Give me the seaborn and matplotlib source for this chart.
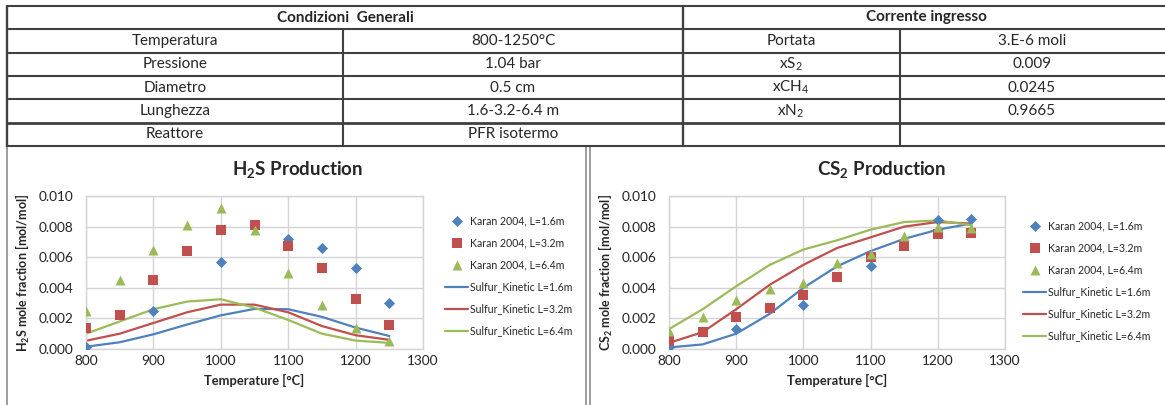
import matplotlib
matplotlib.use("Agg")
import matplotlib.pyplot as plt
from matplotlib.lines import Line2D
from matplotlib.patches import Rectangle
from matplotlib.ticker import FormatStrFormatter, MultipleLocator
import seaborn as sns
import pandas as pd

# ---------------- data ----------------
temps = [800, 850, 900, 950, 1000, 1050, 1100, 1150, 1200, 1250]

h2s_karan_16_T = [800, 900, 1000, 1100, 1150, 1200, 1250]
h2s_karan_16 = [0.0001, 0.0025, 0.0057, 0.0072, 0.0066, 0.0053, 0.0030]
h2s_karan_32 = [0.00135, 0.0022, 0.0045, 0.0064, 0.0078, 0.0081, 0.0067, 0.0053, 0.0033, 0.00155]
h2s_karan_64 = [0.0025, 0.0045, 0.0065, 0.0081, 0.0092, 0.0078, 0.0050, 0.0029, 0.0014, 0.0005]
h2s_kin_16 = [0.00015, 0.00044, 0.00096, 0.0016, 0.0022, 0.00262, 0.0026, 0.0021, 0.0014, 0.00085]
h2s_kin_32 = [0.00054, 0.0010, 0.0017, 0.0024, 0.0029, 0.0029, 0.0024, 0.0015, 0.0009, 0.0006]
h2s_kin_64 = [0.0010, 0.0018, 0.0026, 0.0031, 0.00325, 0.0027, 0.0019, 0.0010, 0.00055, 0.0004]

cs2_karan_16_T = [800, 900, 1000, 1100, 1200, 1250]
cs2_karan_16 = [0.0001, 0.0013, 0.0029, 0.0054, 0.0084, 0.0085]
cs2_karan_32 = [0.00054, 0.00113, 0.0021, 0.0027, 0.00355, 0.0047, 0.0060, 0.0067, 0.0075, 0.0076]
cs2_karan_64 = [0.0012, 0.0021, 0.0032, 0.0039, 0.0043, 0.0056, 0.0062, 0.0074, 0.0080, 0.0079]
cs2_kin_16 = [0.0001, 0.0003, 0.0010, 0.0023, 0.0040, 0.0054, 0.0064, 0.0072, 0.0078, 0.0082]
cs2_kin_32 = [0.0004, 0.0011, 0.0026, 0.0042, 0.0055, 0.0066, 0.0073, 0.0080, 0.0083, 0.0082]
cs2_kin_64 = [0.0013, 0.0026, 0.0041, 0.0055, 0.0065, 0.0071, 0.0078, 0.0083, 0.0084, 0.0081]

karan_labels = ["Karan 2004, L=1.6m", "Karan 2004, L=3.2m", "Karan 2004, L=6.4m"]
kin_labels = ["Sulfur_Kinetic L=1.6m", "Sulfur_Kinetic L=3.2m", "Sulfur_Kinetic L=6.4m"]

table_header_left = "Condizioni  Generali"
table_header_right = "Corrente ingresso"
table_col1 = ["Temperatura", "Pressione", "Diametro", "Lunghezza", "Reattore"]
table_col2 = ["800-1250°C", "1.04 bar", "0.5 cm", "1.6-3.2-6.4 m", "PFR isotermo"]
table_col3 = ["Portata", "xS$_2$", "xCH$_4$", "xN$_2$", ""]
table_col4 = ["3.E-6 moli", "0.009", "0.0245", "0.9665", ""]

# ---------------- style ----------------
sns.set_style("white")
plt.rcParams["font.family"] = ["Lato", "DejaVu Sans"]
plt.rcParams["mathtext.default"] = "regular"

W, H = 1165, 405
fig = plt.figure(figsize=(W / 100, H / 100), dpi=100)

def fx(x):
    return x / W

def fy(y):
    return 1 - y / H

BLUE, RED, GREEN = "#4F81BD", "#C0504D", "#9BBB59"
colors = [BLUE, RED, GREEN]
markers = ["D", "s", "^"]
msizes = [32, 52, 52]

# ---------------- table ----------------
tcol = "#404040"
rows_y = [6, 29, 53, 76, 99, 123, 146]
for i, y in enumerate(rows_y):
    lw = 2.0 if y == 123 else 1.5
    fig.add_artist(Line2D([fx(7), fx(1165)], [fy(y), fy(y)], color=tcol, lw=lw))
fig.add_artist(Line2D([fx(7), fx(7)], [fy(6), fy(146)], color=tcol, lw=1.7))
fig.add_artist(Line2D([fx(683), fx(683)], [fy(6), fy(146)], color=tcol, lw=1.7))
for x in (343, 900):
    fig.add_artist(Line2D([fx(x), fx(x)], [fy(29), fy(146)], color=tcol, lw=1.5))

tfs = 11
fig.text(fx(345), fy(17.5), table_header_left, ha="center", va="center",
         fontsize=tfs, fontweight="bold")
fig.text(fx(926), fy(17.5), table_header_right, ha="center", va="center",
         fontsize=tfs, fontweight="bold")
for i in range(5):
    yc = fy((rows_y[i + 1] + rows_y[i + 2]) / 2)
    fig.text(fx(175), yc, table_col1[i], ha="center", va="center", fontsize=tfs)
    fig.text(fx(513), yc, table_col2[i], ha="center", va="center", fontsize=tfs)
    if table_col3[i]:
        fig.text(fx(791), yc, table_col3[i], ha="center", va="center", fontsize=tfs)
    if table_col4[i]:
        fig.text(fx(1032), yc, table_col4[i], ha="center", va="center", fontsize=tfs)

# ---------------- panels ----------------
pcol = "#8c8c8c"
fig.add_artist(Rectangle((fx(7), fy(410)), fx(586) - fx(7), fy(146) - fy(410),
                         fill=False, ec=pcol, lw=1.2))
fig.add_artist(Rectangle((fx(590), fy(410)), fx(1170) - fx(590), fy(146) - fy(410),
                         fill=False, ec=pcol, lw=1.2))

# ---------------- charts ----------------
def make_chart(left_px, right_px, title, title_cx, ylabel, kx16, k16, k32, k64,
               n16, n32, n64, leg_x, leg_top):
    ax = fig.add_axes([fx(left_px), fy(349), fx(right_px) - fx(left_px), fy(196) - fy(349)])
    karan_T = [kx16, temps, temps]
    karan_v = [k16, k32, k64]
    for T, v, c, m, s, lab in zip(karan_T, karan_v, colors, markers, msizes, karan_labels):
        df = pd.DataFrame({"T": T, "v": v})
        sns.scatterplot(data=df, x="T", y="v", ax=ax, color=c, marker=m, s=s,
                        linewidth=0, label=lab, zorder=3)
    for v, c, lab in zip([n16, n32, n64], colors, kin_labels):
        df = pd.DataFrame({"T": temps, "v": v})
        sns.lineplot(data=df, x="T", y="v", ax=ax, color=c, lw=1.6, label=lab, zorder=2)
    ax.set_xlim(800, 1300)
    ax.set_ylim(0, 0.010)
    ax.xaxis.set_major_locator(MultipleLocator(100))
    ax.yaxis.set_major_locator(MultipleLocator(0.002))
    ax.yaxis.set_major_formatter(FormatStrFormatter("%.3f"))
    ax.grid(True, color="#d4d4d4", lw=1)
    ax.set_axisbelow(True)
    for sp in ax.spines.values():
        sp.set_color("#d4d4d4")
        sp.set_linewidth(1)
    ax.tick_params(axis="both", length=0, labelsize=9.8, colors="#222222")
    ax.tick_params(axis="y", pad=9)
    ax.tick_params(axis="x", pad=4)
    ax.set_xlabel("Temperature [°C]", fontsize=9.3, fontweight="bold", labelpad=5)
    ax.set_ylabel(ylabel, fontsize=9, fontweight="bold", labelpad=5)
    fig.text(fx(title_cx), fy(170), title, ha="center", va="center",
             fontsize=13.5, fontweight="bold")
    handles, labels = ax.get_legend_handles_labels()
    ax.legend(handles, labels, loc="upper left", bbox_to_anchor=(fx(leg_x), fy(leg_top)),
              bbox_transform=fig.transFigure, frameon=False, fontsize=7.6,
              borderpad=0, borderaxespad=0, handlelength=2.2, handletextpad=0.2,
              labelspacing=1.05, markerscale=1.0)
    return ax

make_chart(86, 423, "H$_2$S Production", 298, "H$_2$S mole fraction [mol/mol]",
           h2s_karan_16_T, h2s_karan_16, h2s_karan_32, h2s_karan_64,
           h2s_kin_16, h2s_kin_32, h2s_kin_64, 445, 215)
make_chart(669, 1005, "CS$_2$ Production", 882, "CS$_2$ mole fraction [mol/mol]",
           cs2_karan_16_T, cs2_karan_16, cs2_karan_32, cs2_karan_64,
           cs2_kin_16, cs2_kin_32, cs2_kin_64, 1023, 220)

fig.savefig("out.png", dpi=100)
